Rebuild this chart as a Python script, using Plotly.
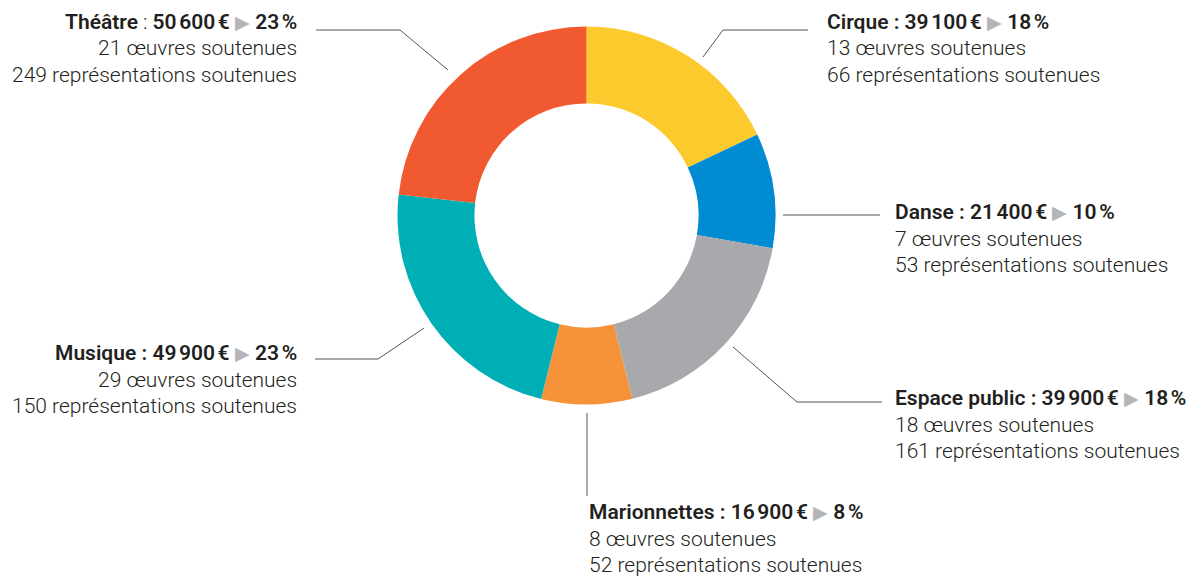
import plotly.graph_objects as go

# data
categories = ["Cirque", "Danse", "Espace public", "Marionnettes", "Musique", "Théâtre"]
amounts = [39100, 21400, 39900, 16900, 49900, 50600]
oeuvres = [13, 7, 18, 8, 29, 21]
representations = [66, 53, 161, 52, 150, 249]

colors = ["#FDCA2E", "#008BD2", "#A7A9AC", "#F6933A", "#00AFB5", "#F15A30"]

W, H = 1201, 577
cx, cy, R = 586.5, 215.5, 189

# label layout: text anchor (px), alignment, leader line path (px)
label_layout = {
    "Cirque": dict(x=825, y=22, align="left",
                   path=[(703, 57), (723, 30), (808, 30)]),
    "Danse": dict(x=893, y=212, align="left",
                  path=[(783, 215), (880, 215)]),
    "Espace public": dict(x=893, y=398, align="left",
                          path=[(733, 347), (797, 402), (882, 402)]),
    "Marionnettes": dict(x=587, y=512, align="left",
                         path=[(587, 413), (587, 496)]),
    "Musique": dict(x=299, y=353, align="right",
                    path=[(424, 328), (378, 359), (315, 359)]),
    "Théâtre": dict(x=299, y=22, align="right",
                    path=[(448, 70), (400, 30), (316, 30)]),
}


def px(x):
    return x / W


def py(y):
    return 1 - y / H


def fmt(n):
    return f"{n:,}".replace(",", "\u202f")


total = sum(amounts)

fig = go.Figure(go.Pie(
    labels=categories,
    values=amounts,
    hole=0.593,
    sort=False,
    direction="clockwise",
    rotation=0,
    marker=dict(colors=colors, line=dict(width=0)),
    textinfo="none",
    hoverinfo="label+value+percent",
    showlegend=False,
    domain=dict(x=[px(cx - R), px(cx + R)], y=[py(cy + R), py(cy - R)]),
))

LINE_H = 26.5
tri = "<span style='color:#B3B5B8;font-size:19px;font-weight:400'>\u25B6</span>"

for cat, amt, oe, rep in zip(categories, amounts, oeuvres, representations):
    lay = label_layout[cat]
    pct = round(amt / total * 100)
    if cat == "Théâtre":
        head = (f"{cat}<span style='font-weight:300'> : </span>"
                f"{fmt(amt)}\u202f€ {tri} {pct}\u202f%")
    else:
        head = f"{cat} : {fmt(amt)}\u202f€ {tri} {pct}\u202f%"
    lines = [head, f"{oe} œuvres soutenues", f"{rep} représentations soutenues"]
    for i, t in enumerate(lines):
        fig.add_annotation(
            x=px(lay["x"]), y=py(lay["y"] + i * LINE_H),
            xref="paper", yref="paper",
            text=t, showarrow=False,
            xanchor="left" if lay["align"] == "left" else "right",
            yanchor="middle",
            font=dict(family="Roboto", size=21,
                      color="#231F20", weight=600 if i == 0 else 300),
        )
    pts = lay["path"]
    for (x0, y0), (x1, y1) in zip(pts[:-1], pts[1:]):
        fig.add_shape(type="line", xref="paper", yref="paper",
                      x0=px(x0), y0=py(y0), x1=px(x1), y1=py(y1),
                      line=dict(color="#555555", width=1))

fig.update_layout(
    width=W, height=H,
    margin=dict(l=0, r=0, t=0, b=0),
    paper_bgcolor="white",
    plot_bgcolor="white",
)

# drop the default page margin so the figure sits at the window's corner
fig.write_html("out.html", config={"displayModeBar": False},
               post_script="document.body.style.margin='0';")
